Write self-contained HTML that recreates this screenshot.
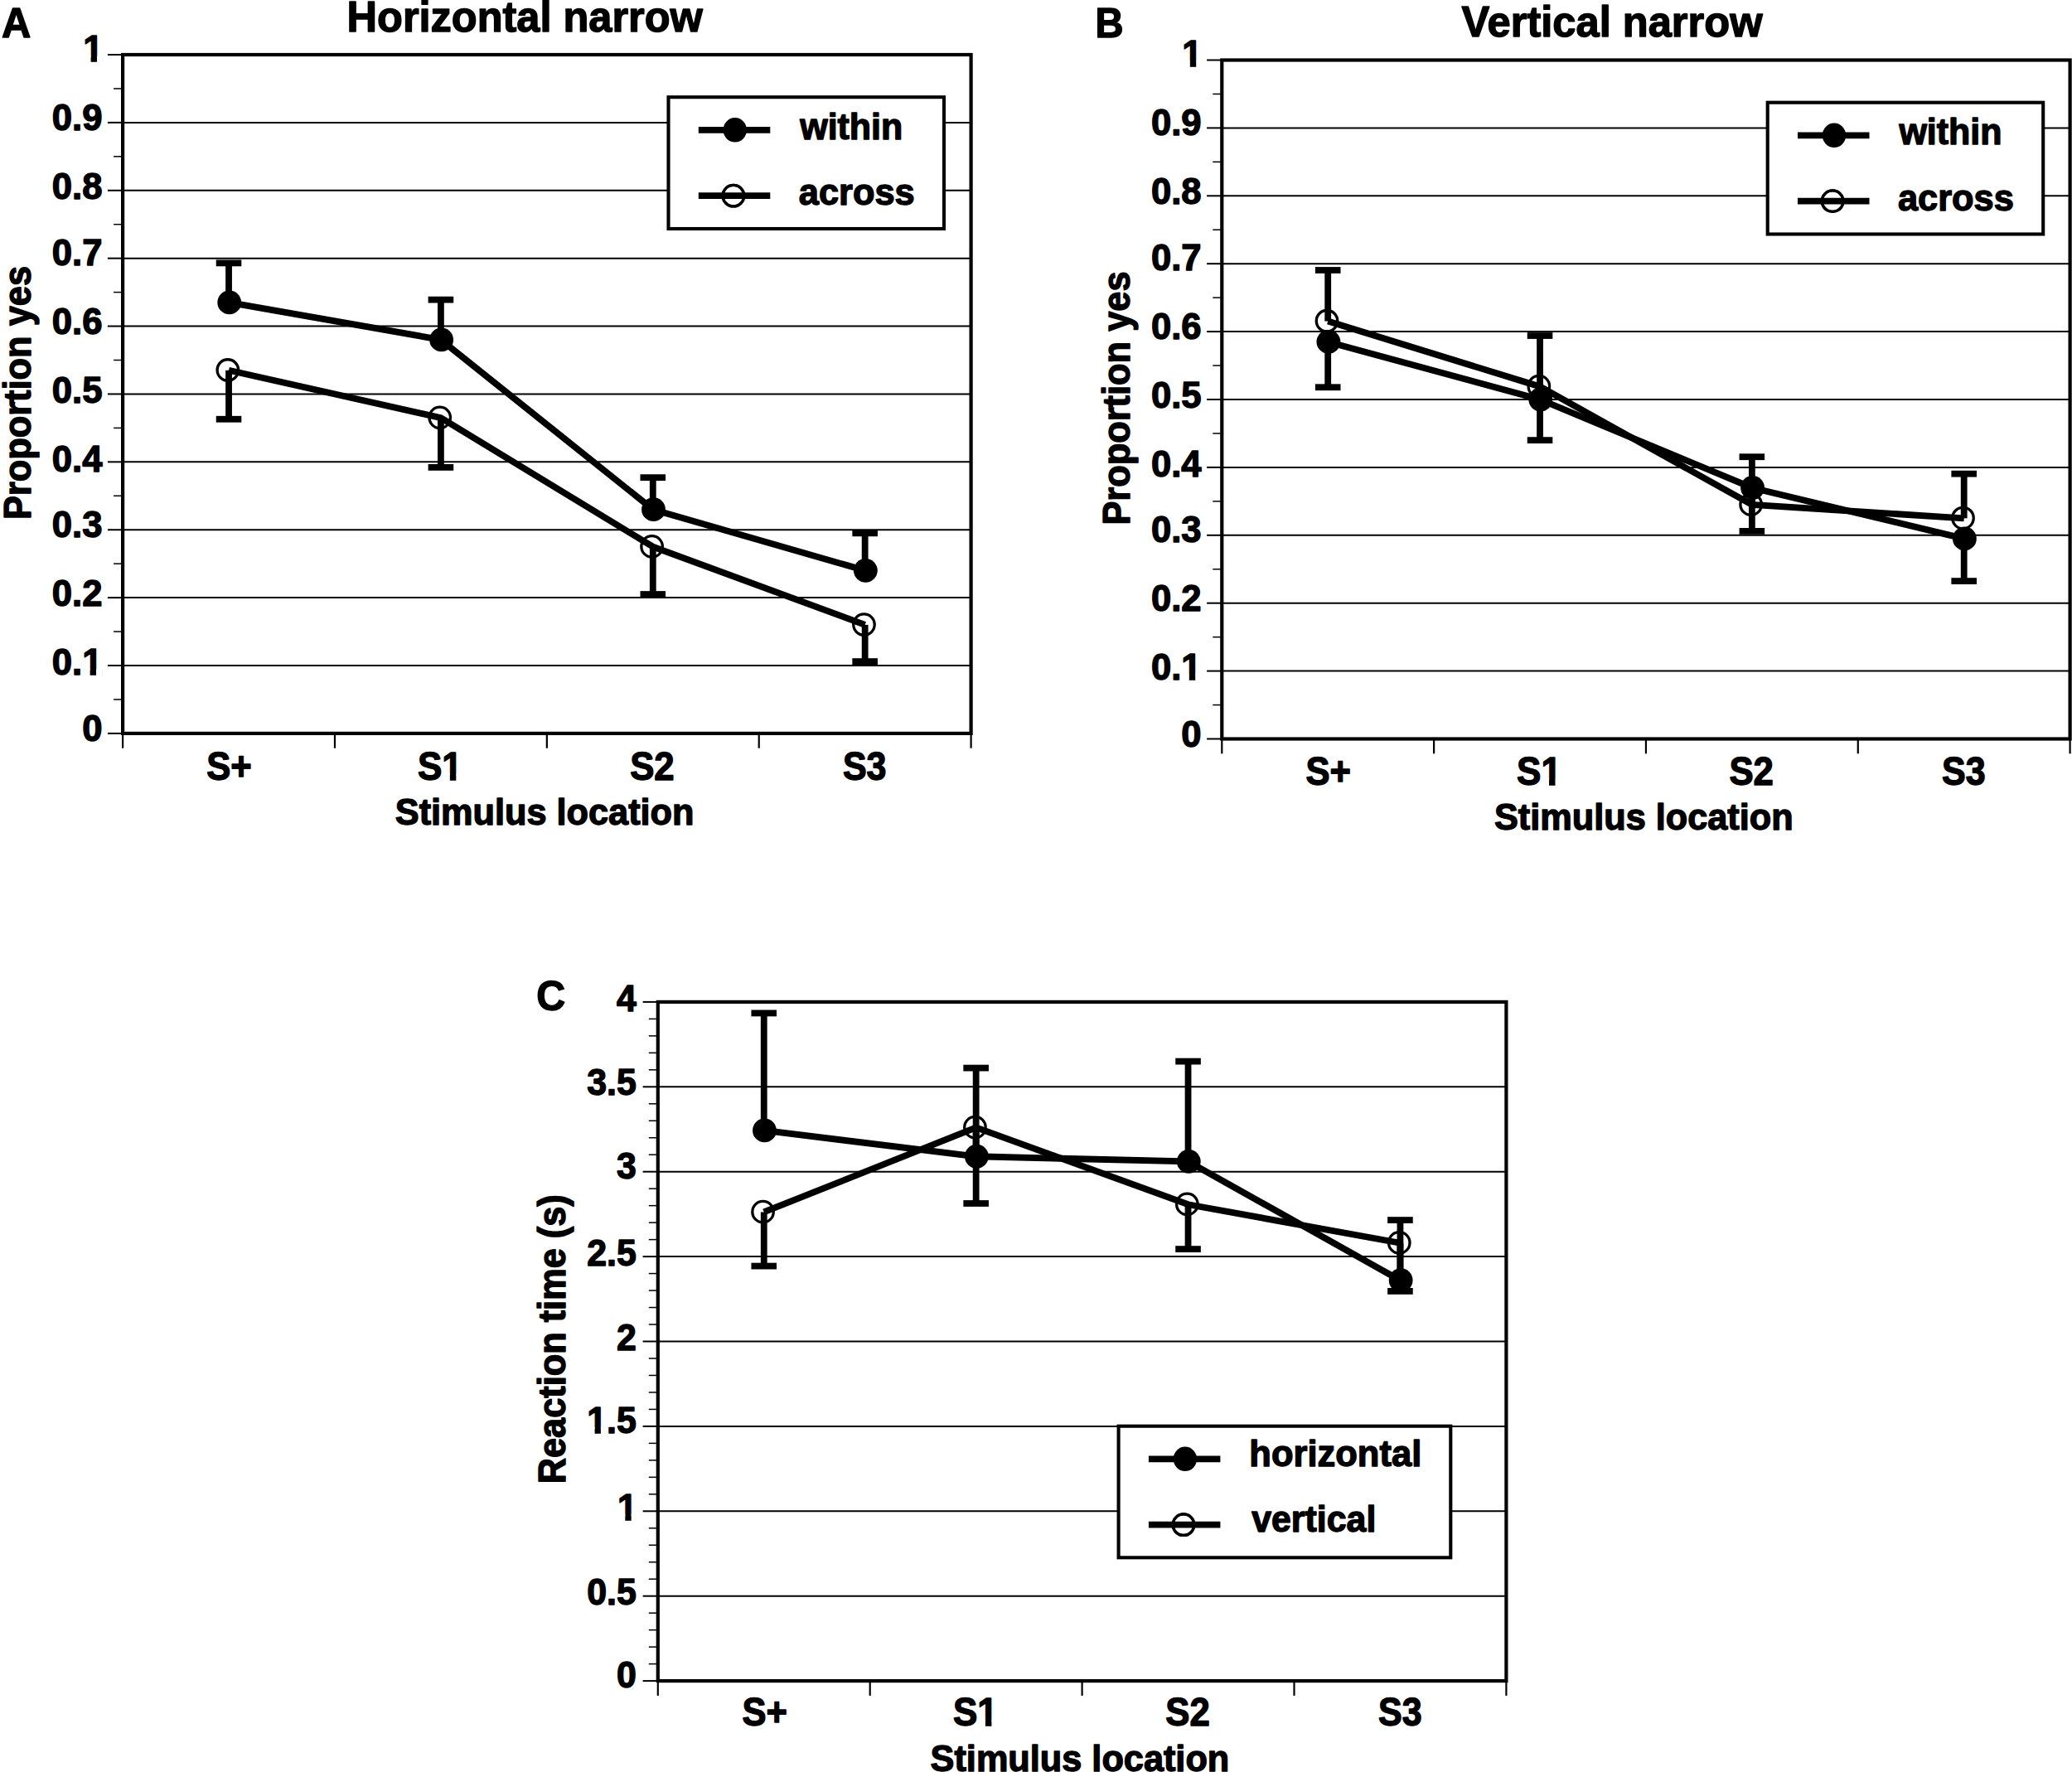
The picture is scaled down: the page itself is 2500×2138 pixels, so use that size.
<!DOCTYPE html>
<html lang="en">
<head>
<meta charset="utf-8">
<title>Figure: proportion yes and reaction time by stimulus location</title>
<style>
html, body { margin: 0; padding: 0; background: #fff; }
body { width: 2500px; height: 2138px; overflow: hidden; }
svg { display: block; }
svg text { font-family: "Liberation Sans", sans-serif; font-weight: 700; fill: #000; stroke: #000; stroke-width: 1.4; stroke-linejoin: round; }
.grid { stroke: #000; stroke-width: 2; }
.tick { stroke: #000; stroke-width: 2; }
.xtick { stroke: #000; stroke-width: 2.2; }
.mtick { stroke: #000; stroke-width: 1.5; }
.frame { fill: none; stroke: #000; stroke-width: 4.2; }
.legend { fill: #fff; stroke: #000; stroke-width: 4.1; }
.ser { fill: none; stroke: #000; stroke-width: 7.8; stroke-linejoin: miter; }
.err { stroke: #000; stroke-width: 7.8; }
.dotf { fill: #000; }
.doto { fill: #fff; stroke: #000; stroke-width: 3.3; }
.doto2 { fill: none; stroke: #000; stroke-width: 3.3; }
</style>
</head>
<body>
<svg width="2500" height="2138" viewBox="0 0 2500 2138">
<rect x="0" y="0" width="2500" height="2138" fill="#fff"/>
<g>
<line x1="129.9" y1="884.9" x2="148.1" y2="884.9" class="tick"/>
<line x1="137.1" y1="843.95" x2="148.1" y2="843.95" class="mtick"/>
<line x1="148.1" y1="803.01" x2="1171.6" y2="803.01" class="grid"/>
<line x1="129.9" y1="803.01" x2="148.1" y2="803.01" class="tick"/>
<line x1="137.1" y1="762.06" x2="148.1" y2="762.06" class="mtick"/>
<line x1="148.1" y1="721.12" x2="1171.6" y2="721.12" class="grid"/>
<line x1="129.9" y1="721.12" x2="148.1" y2="721.12" class="tick"/>
<line x1="137.1" y1="680.17" x2="148.1" y2="680.17" class="mtick"/>
<line x1="148.1" y1="639.23" x2="1171.6" y2="639.23" class="grid"/>
<line x1="129.9" y1="639.23" x2="148.1" y2="639.23" class="tick"/>
<line x1="137.1" y1="598.28" x2="148.1" y2="598.28" class="mtick"/>
<line x1="148.1" y1="557.34" x2="1171.6" y2="557.34" class="grid"/>
<line x1="129.9" y1="557.34" x2="148.1" y2="557.34" class="tick"/>
<line x1="137.1" y1="516.39" x2="148.1" y2="516.39" class="mtick"/>
<line x1="148.1" y1="475.45" x2="1171.6" y2="475.45" class="grid"/>
<line x1="129.9" y1="475.45" x2="148.1" y2="475.45" class="tick"/>
<line x1="137.1" y1="434.5" x2="148.1" y2="434.5" class="mtick"/>
<line x1="148.1" y1="393.56" x2="1171.6" y2="393.56" class="grid"/>
<line x1="129.9" y1="393.56" x2="148.1" y2="393.56" class="tick"/>
<line x1="137.1" y1="352.61" x2="148.1" y2="352.61" class="mtick"/>
<line x1="148.1" y1="311.67" x2="1171.6" y2="311.67" class="grid"/>
<line x1="129.9" y1="311.67" x2="148.1" y2="311.67" class="tick"/>
<line x1="137.1" y1="270.72" x2="148.1" y2="270.72" class="mtick"/>
<line x1="148.1" y1="229.78" x2="1171.6" y2="229.78" class="grid"/>
<line x1="129.9" y1="229.78" x2="148.1" y2="229.78" class="tick"/>
<line x1="137.1" y1="188.83" x2="148.1" y2="188.83" class="mtick"/>
<line x1="148.1" y1="147.89" x2="1171.6" y2="147.89" class="grid"/>
<line x1="129.9" y1="147.89" x2="148.1" y2="147.89" class="tick"/>
<line x1="137.1" y1="106.94" x2="148.1" y2="106.94" class="mtick"/>
<line x1="129.9" y1="66" x2="148.1" y2="66" class="tick"/>
<line x1="148.1" y1="884.9" x2="148.1" y2="902.7" class="xtick"/>
<line x1="403.98" y1="884.9" x2="403.98" y2="902.7" class="xtick"/>
<line x1="659.85" y1="884.9" x2="659.85" y2="902.7" class="xtick"/>
<line x1="915.73" y1="884.9" x2="915.73" y2="902.7" class="xtick"/>
<line x1="1171.6" y1="884.9" x2="1171.6" y2="902.7" class="xtick"/>
<rect x="148.1" y="66" width="1023.5" height="818.9" class="frame"/>
<text x="99.14" y="894.3" font-size="45" textLength="24.27" lengthAdjust="spacingAndGlyphs">0</text>
<text x="62.75" y="814" font-size="45" textLength="60.65" lengthAdjust="spacingAndGlyphs">0.1</text>
<rect x="100.39" y="807.32" width="8.22" height="9.38" fill="#fff"/>
<rect x="116.03" y="807.32" width="7.65" height="9.38" fill="#fff"/>
<text x="62.75" y="730.6" font-size="45" textLength="60.65" lengthAdjust="spacingAndGlyphs">0.2</text>
<text x="62.75" y="647.5" font-size="45" textLength="60.65" lengthAdjust="spacingAndGlyphs">0.3</text>
<text x="62.75" y="568.6" font-size="45" textLength="60.65" lengthAdjust="spacingAndGlyphs">0.4</text>
<text x="62.75" y="485.6" font-size="45" textLength="60.65" lengthAdjust="spacingAndGlyphs">0.5</text>
<text x="62.75" y="402.6" font-size="45" textLength="60.65" lengthAdjust="spacingAndGlyphs">0.6</text>
<text x="62.75" y="319.6" font-size="45" textLength="60.65" lengthAdjust="spacingAndGlyphs">0.7</text>
<text x="62.75" y="239.5" font-size="45" textLength="60.65" lengthAdjust="spacingAndGlyphs">0.8</text>
<text x="62.75" y="156.6" font-size="45" textLength="60.65" lengthAdjust="spacingAndGlyphs">0.9</text>
<text x="100.14" y="74" font-size="45" textLength="24.27" lengthAdjust="spacingAndGlyphs">1</text>
<rect x="101.39" y="67.32" width="8.22" height="9.38" fill="#fff"/>
<rect x="117.03" y="67.32" width="7.65" height="9.38" fill="#fff"/>
<text x="249.29" y="940.8" font-size="47.5" textLength="54.49" lengthAdjust="spacingAndGlyphs">S+</text>
<text x="503.88" y="940.8" font-size="47.5" textLength="53.88" lengthAdjust="spacingAndGlyphs">S1</text>
<rect x="534.53" y="933.86" width="8.29" height="9.64" fill="#fff"/>
<rect x="550.3" y="933.86" width="7.72" height="9.64" fill="#fff"/>
<text x="760.19" y="940.8" font-size="47.5" textLength="53.49" lengthAdjust="spacingAndGlyphs">S2</text>
<text x="1016.91" y="940.8" font-size="47.5" textLength="52.63" lengthAdjust="spacingAndGlyphs">S3</text>
<text x="476.8" y="994.8" font-size="45" textLength="360.67" lengthAdjust="spacingAndGlyphs">Stimulus location</text>
<text transform="translate(36.7 624.9) rotate(-90)" x="-2.23" y="0" font-size="46" textLength="306.14" lengthAdjust="spacingAndGlyphs">Proportion yes</text>
<rect x="806.5" y="117.2" width="332.5" height="158.8" class="legend"/>
<line x1="842.8" y1="156.8" x2="929.3" y2="156.8" class="ser"/>
<ellipse cx="886.8" cy="156.8" rx="14.2" ry="14.7" class="dotf"/>
<circle cx="884.9" cy="236.2" r="12.75" class="doto"/>
<line x1="842.8" y1="236.2" x2="929.3" y2="236.2" class="ser"/>
<circle cx="884.9" cy="236.2" r="12.75" class="doto2"/>
<text x="965.21" y="167.9" font-size="45" textLength="124.1" lengthAdjust="spacingAndGlyphs">within</text>
<text x="963.8" y="247.4" font-size="45" textLength="139.83" lengthAdjust="spacingAndGlyphs">across</text>
<circle cx="274.84" cy="446.49" r="12.75" class="doto"/>
<circle cx="530.71" cy="503.81" r="12.75" class="doto"/>
<circle cx="786.59" cy="659.4" r="12.75" class="doto"/>
<circle cx="1042.46" cy="753.58" r="12.75" class="doto"/>
<polyline points="276.04,446.79 531.91,504.11 787.79,659.7 1043.66,753.88" class="ser"/>
<line x1="276.04" y1="446.79" x2="276.04" y2="505.75" class="err"/>
<line x1="260.74" y1="505.75" x2="291.34" y2="505.75" class="err"/>
<line x1="531.91" y1="504.11" x2="531.91" y2="563.89" class="err"/>
<line x1="516.61" y1="563.89" x2="547.21" y2="563.89" class="err"/>
<line x1="787.79" y1="659.7" x2="787.79" y2="717.03" class="err"/>
<line x1="772.49" y1="717.03" x2="803.09" y2="717.03" class="err"/>
<line x1="1043.66" y1="753.88" x2="1043.66" y2="798.1" class="err"/>
<line x1="1028.36" y1="798.1" x2="1058.96" y2="798.1" class="err"/>
<polyline points="276.04,364.9 531.91,409.94 787.79,614.66 1043.66,688.36" class="ser"/>
<line x1="276.04" y1="364.9" x2="276.04" y2="317.4" class="err"/>
<line x1="260.74" y1="317.4" x2="291.34" y2="317.4" class="err"/>
<line x1="531.91" y1="409.94" x2="531.91" y2="361.62" class="err"/>
<line x1="516.61" y1="361.62" x2="547.21" y2="361.62" class="err"/>
<line x1="787.79" y1="614.66" x2="787.79" y2="576.17" class="err"/>
<line x1="772.49" y1="576.17" x2="803.09" y2="576.17" class="err"/>
<line x1="1043.66" y1="688.36" x2="1043.66" y2="643.32" class="err"/>
<line x1="1028.36" y1="643.32" x2="1058.96" y2="643.32" class="err"/>
<circle cx="276.74" cy="364.9" r="14.4" class="dotf"/>
<circle cx="532.61" cy="409.94" r="14.4" class="dotf"/>
<circle cx="788.49" cy="614.66" r="14.4" class="dotf"/>
<circle cx="1044.36" cy="688.36" r="14.4" class="dotf"/>
</g>
<text x="1.88" y="45.3" font-size="50" textLength="35.25" lengthAdjust="spacingAndGlyphs">A</text>
<text x="418.59" y="37.8" font-size="52" textLength="429.32" lengthAdjust="spacingAndGlyphs">Horizontal narrow</text>
<g>
<line x1="1456.1" y1="891.5" x2="1474.3" y2="891.5" class="tick"/>
<line x1="1463.3" y1="850.55" x2="1474.3" y2="850.55" class="mtick"/>
<line x1="1474.3" y1="809.6" x2="2497.6" y2="809.6" class="grid"/>
<line x1="1456.1" y1="809.6" x2="1474.3" y2="809.6" class="tick"/>
<line x1="1463.3" y1="768.65" x2="1474.3" y2="768.65" class="mtick"/>
<line x1="1474.3" y1="727.7" x2="2497.6" y2="727.7" class="grid"/>
<line x1="1456.1" y1="727.7" x2="1474.3" y2="727.7" class="tick"/>
<line x1="1463.3" y1="686.75" x2="1474.3" y2="686.75" class="mtick"/>
<line x1="1474.3" y1="645.8" x2="2497.6" y2="645.8" class="grid"/>
<line x1="1456.1" y1="645.8" x2="1474.3" y2="645.8" class="tick"/>
<line x1="1463.3" y1="604.85" x2="1474.3" y2="604.85" class="mtick"/>
<line x1="1474.3" y1="563.9" x2="2497.6" y2="563.9" class="grid"/>
<line x1="1456.1" y1="563.9" x2="1474.3" y2="563.9" class="tick"/>
<line x1="1463.3" y1="522.95" x2="1474.3" y2="522.95" class="mtick"/>
<line x1="1474.3" y1="482" x2="2497.6" y2="482" class="grid"/>
<line x1="1456.1" y1="482" x2="1474.3" y2="482" class="tick"/>
<line x1="1463.3" y1="441.05" x2="1474.3" y2="441.05" class="mtick"/>
<line x1="1474.3" y1="400.1" x2="2497.6" y2="400.1" class="grid"/>
<line x1="1456.1" y1="400.1" x2="1474.3" y2="400.1" class="tick"/>
<line x1="1463.3" y1="359.15" x2="1474.3" y2="359.15" class="mtick"/>
<line x1="1474.3" y1="318.2" x2="2497.6" y2="318.2" class="grid"/>
<line x1="1456.1" y1="318.2" x2="1474.3" y2="318.2" class="tick"/>
<line x1="1463.3" y1="277.25" x2="1474.3" y2="277.25" class="mtick"/>
<line x1="1474.3" y1="236.3" x2="2497.6" y2="236.3" class="grid"/>
<line x1="1456.1" y1="236.3" x2="1474.3" y2="236.3" class="tick"/>
<line x1="1463.3" y1="195.35" x2="1474.3" y2="195.35" class="mtick"/>
<line x1="1474.3" y1="154.4" x2="2497.6" y2="154.4" class="grid"/>
<line x1="1456.1" y1="154.4" x2="1474.3" y2="154.4" class="tick"/>
<line x1="1463.3" y1="113.45" x2="1474.3" y2="113.45" class="mtick"/>
<line x1="1456.1" y1="72.5" x2="1474.3" y2="72.5" class="tick"/>
<line x1="1474.3" y1="891.5" x2="1474.3" y2="909.3" class="xtick"/>
<line x1="1730.12" y1="891.5" x2="1730.12" y2="909.3" class="xtick"/>
<line x1="1985.95" y1="891.5" x2="1985.95" y2="909.3" class="xtick"/>
<line x1="2241.77" y1="891.5" x2="2241.77" y2="909.3" class="xtick"/>
<line x1="2497.6" y1="891.5" x2="2497.6" y2="909.3" class="xtick"/>
<rect x="1474.3" y="72.5" width="1023.3" height="819" class="frame"/>
<text x="1425.34" y="900.7" font-size="45" textLength="24.27" lengthAdjust="spacingAndGlyphs">0</text>
<text x="1388.95" y="820.4" font-size="45" textLength="60.65" lengthAdjust="spacingAndGlyphs">0.1</text>
<rect x="1426.59" y="813.72" width="8.22" height="9.38" fill="#fff"/>
<rect x="1442.23" y="813.72" width="7.65" height="9.38" fill="#fff"/>
<text x="1388.95" y="737" font-size="45" textLength="60.65" lengthAdjust="spacingAndGlyphs">0.2</text>
<text x="1388.95" y="653.9" font-size="45" textLength="60.65" lengthAdjust="spacingAndGlyphs">0.3</text>
<text x="1388.95" y="575" font-size="45" textLength="60.65" lengthAdjust="spacingAndGlyphs">0.4</text>
<text x="1388.95" y="492" font-size="45" textLength="60.65" lengthAdjust="spacingAndGlyphs">0.5</text>
<text x="1388.95" y="409" font-size="45" textLength="60.65" lengthAdjust="spacingAndGlyphs">0.6</text>
<text x="1388.95" y="326" font-size="45" textLength="60.65" lengthAdjust="spacingAndGlyphs">0.7</text>
<text x="1388.95" y="245.9" font-size="45" textLength="60.65" lengthAdjust="spacingAndGlyphs">0.8</text>
<text x="1388.95" y="163" font-size="45" textLength="60.65" lengthAdjust="spacingAndGlyphs">0.9</text>
<text x="1426.34" y="80.4" font-size="45" textLength="24.27" lengthAdjust="spacingAndGlyphs">1</text>
<rect x="1427.59" y="73.72" width="8.22" height="9.38" fill="#fff"/>
<rect x="1443.23" y="73.72" width="7.65" height="9.38" fill="#fff"/>
<text x="1575.49" y="947.3" font-size="47.5" textLength="54.49" lengthAdjust="spacingAndGlyphs">S+</text>
<text x="1830.08" y="947.3" font-size="47.5" textLength="53.88" lengthAdjust="spacingAndGlyphs">S1</text>
<rect x="1860.73" y="940.36" width="8.29" height="9.64" fill="#fff"/>
<rect x="1876.5" y="940.36" width="7.72" height="9.64" fill="#fff"/>
<text x="2086.39" y="947.3" font-size="47.5" textLength="53.49" lengthAdjust="spacingAndGlyphs">S2</text>
<text x="2343.11" y="947.3" font-size="47.5" textLength="52.63" lengthAdjust="spacingAndGlyphs">S3</text>
<text x="1803" y="1001.3" font-size="45" textLength="360.67" lengthAdjust="spacingAndGlyphs">Stimulus location</text>
<text transform="translate(1362.9 631.4) rotate(-90)" x="-2.23" y="0" font-size="46" textLength="306.14" lengthAdjust="spacingAndGlyphs">Proportion yes</text>
<rect x="2132.7" y="123.7" width="332.5" height="158.8" class="legend"/>
<line x1="2169" y1="163.3" x2="2255.5" y2="163.3" class="ser"/>
<ellipse cx="2213" cy="163.3" rx="14.2" ry="14.7" class="dotf"/>
<circle cx="2211.1" cy="242.7" r="12.75" class="doto"/>
<line x1="2169" y1="242.7" x2="2255.5" y2="242.7" class="ser"/>
<circle cx="2211.1" cy="242.7" r="12.75" class="doto2"/>
<text x="2291.41" y="174.4" font-size="45" textLength="124.1" lengthAdjust="spacingAndGlyphs">within</text>
<text x="2290" y="253.9" font-size="45" textLength="139.83" lengthAdjust="spacingAndGlyphs">across</text>
<circle cx="1601.01" cy="387.27" r="12.75" class="doto"/>
<circle cx="1856.84" cy="466.14" r="12.75" class="doto"/>
<circle cx="2112.66" cy="608.65" r="12.75" class="doto"/>
<circle cx="2368.49" cy="625.03" r="12.75" class="doto"/>
<polyline points="1602.21,387.57 1858.04,466.44 2113.86,608.95 2369.69,625.33" class="ser"/>
<line x1="1602.21" y1="387.57" x2="1602.21" y2="325.98" class="err"/>
<line x1="1586.91" y1="325.98" x2="1617.51" y2="325.98" class="err"/>
<line x1="1858.04" y1="466.44" x2="1858.04" y2="405.01" class="err"/>
<line x1="1842.74" y1="405.01" x2="1873.34" y2="405.01" class="err"/>
<line x1="2113.86" y1="608.95" x2="2113.86" y2="551.21" class="err"/>
<line x1="2098.56" y1="551.21" x2="2129.16" y2="551.21" class="err"/>
<line x1="2369.69" y1="625.33" x2="2369.69" y2="571.68" class="err"/>
<line x1="2354.39" y1="571.68" x2="2384.99" y2="571.68" class="err"/>
<polyline points="1602.21,412.39 1858.04,482 2113.86,588.47 2369.69,649.89" class="ser"/>
<line x1="1602.21" y1="412.39" x2="1602.21" y2="467.26" class="err"/>
<line x1="1586.91" y1="467.26" x2="1617.51" y2="467.26" class="err"/>
<line x1="1858.04" y1="482" x2="1858.04" y2="531.14" class="err"/>
<line x1="1842.74" y1="531.14" x2="1873.34" y2="531.14" class="err"/>
<line x1="2113.86" y1="588.47" x2="2113.86" y2="640.89" class="err"/>
<line x1="2098.56" y1="640.89" x2="2129.16" y2="640.89" class="err"/>
<line x1="2369.69" y1="649.89" x2="2369.69" y2="701.08" class="err"/>
<line x1="2354.39" y1="701.08" x2="2384.99" y2="701.08" class="err"/>
<circle cx="1602.91" cy="412.39" r="14.4" class="dotf"/>
<circle cx="1858.74" cy="482" r="14.4" class="dotf"/>
<circle cx="2114.56" cy="588.47" r="14.4" class="dotf"/>
<circle cx="2370.39" cy="649.89" r="14.4" class="dotf"/>
</g>
<text x="1321.51" y="45.3" font-size="50" textLength="34.1" lengthAdjust="spacingAndGlyphs">B</text>
<text x="1763.62" y="43.9" font-size="52" textLength="362.96" lengthAdjust="spacingAndGlyphs">Vertical narrow</text>
<g>
<line x1="775.6" y1="2028.1" x2="793.8" y2="2028.1" class="tick"/>
<line x1="782.8" y1="2007.62" x2="793.8" y2="2007.62" class="mtick"/>
<line x1="782.8" y1="1987.14" x2="793.8" y2="1987.14" class="mtick"/>
<line x1="782.8" y1="1966.66" x2="793.8" y2="1966.66" class="mtick"/>
<line x1="782.8" y1="1946.18" x2="793.8" y2="1946.18" class="mtick"/>
<line x1="793.8" y1="1925.7" x2="1817.4" y2="1925.7" class="grid"/>
<line x1="775.6" y1="1925.7" x2="793.8" y2="1925.7" class="tick"/>
<line x1="782.8" y1="1905.22" x2="793.8" y2="1905.22" class="mtick"/>
<line x1="782.8" y1="1884.74" x2="793.8" y2="1884.74" class="mtick"/>
<line x1="782.8" y1="1864.26" x2="793.8" y2="1864.26" class="mtick"/>
<line x1="782.8" y1="1843.78" x2="793.8" y2="1843.78" class="mtick"/>
<line x1="793.8" y1="1823.3" x2="1817.4" y2="1823.3" class="grid"/>
<line x1="775.6" y1="1823.3" x2="793.8" y2="1823.3" class="tick"/>
<line x1="782.8" y1="1802.82" x2="793.8" y2="1802.82" class="mtick"/>
<line x1="782.8" y1="1782.34" x2="793.8" y2="1782.34" class="mtick"/>
<line x1="782.8" y1="1761.86" x2="793.8" y2="1761.86" class="mtick"/>
<line x1="782.8" y1="1741.38" x2="793.8" y2="1741.38" class="mtick"/>
<line x1="793.8" y1="1720.9" x2="1817.4" y2="1720.9" class="grid"/>
<line x1="775.6" y1="1720.9" x2="793.8" y2="1720.9" class="tick"/>
<line x1="782.8" y1="1700.42" x2="793.8" y2="1700.42" class="mtick"/>
<line x1="782.8" y1="1679.94" x2="793.8" y2="1679.94" class="mtick"/>
<line x1="782.8" y1="1659.46" x2="793.8" y2="1659.46" class="mtick"/>
<line x1="782.8" y1="1638.98" x2="793.8" y2="1638.98" class="mtick"/>
<line x1="793.8" y1="1618.5" x2="1817.4" y2="1618.5" class="grid"/>
<line x1="775.6" y1="1618.5" x2="793.8" y2="1618.5" class="tick"/>
<line x1="782.8" y1="1598.02" x2="793.8" y2="1598.02" class="mtick"/>
<line x1="782.8" y1="1577.54" x2="793.8" y2="1577.54" class="mtick"/>
<line x1="782.8" y1="1557.06" x2="793.8" y2="1557.06" class="mtick"/>
<line x1="782.8" y1="1536.58" x2="793.8" y2="1536.58" class="mtick"/>
<line x1="793.8" y1="1516.1" x2="1817.4" y2="1516.1" class="grid"/>
<line x1="775.6" y1="1516.1" x2="793.8" y2="1516.1" class="tick"/>
<line x1="782.8" y1="1495.62" x2="793.8" y2="1495.62" class="mtick"/>
<line x1="782.8" y1="1475.14" x2="793.8" y2="1475.14" class="mtick"/>
<line x1="782.8" y1="1454.66" x2="793.8" y2="1454.66" class="mtick"/>
<line x1="782.8" y1="1434.18" x2="793.8" y2="1434.18" class="mtick"/>
<line x1="793.8" y1="1413.7" x2="1817.4" y2="1413.7" class="grid"/>
<line x1="775.6" y1="1413.7" x2="793.8" y2="1413.7" class="tick"/>
<line x1="782.8" y1="1393.22" x2="793.8" y2="1393.22" class="mtick"/>
<line x1="782.8" y1="1372.74" x2="793.8" y2="1372.74" class="mtick"/>
<line x1="782.8" y1="1352.26" x2="793.8" y2="1352.26" class="mtick"/>
<line x1="782.8" y1="1331.78" x2="793.8" y2="1331.78" class="mtick"/>
<line x1="793.8" y1="1311.3" x2="1817.4" y2="1311.3" class="grid"/>
<line x1="775.6" y1="1311.3" x2="793.8" y2="1311.3" class="tick"/>
<line x1="782.8" y1="1290.82" x2="793.8" y2="1290.82" class="mtick"/>
<line x1="782.8" y1="1270.34" x2="793.8" y2="1270.34" class="mtick"/>
<line x1="782.8" y1="1249.86" x2="793.8" y2="1249.86" class="mtick"/>
<line x1="782.8" y1="1229.38" x2="793.8" y2="1229.38" class="mtick"/>
<line x1="775.6" y1="1208.9" x2="793.8" y2="1208.9" class="tick"/>
<line x1="793.8" y1="2028.1" x2="793.8" y2="2045.9" class="xtick"/>
<line x1="1049.7" y1="2028.1" x2="1049.7" y2="2045.9" class="xtick"/>
<line x1="1305.6" y1="2028.1" x2="1305.6" y2="2045.9" class="xtick"/>
<line x1="1561.5" y1="2028.1" x2="1561.5" y2="2045.9" class="xtick"/>
<line x1="1817.4" y1="2028.1" x2="1817.4" y2="2045.9" class="xtick"/>
<rect x="793.8" y="1208.9" width="1023.6" height="819.2" class="frame"/>
<text x="744.04" y="2036.3" font-size="45" textLength="23.84" lengthAdjust="spacingAndGlyphs">0</text>
<text x="708.29" y="1935.5" font-size="45" textLength="59.6" lengthAdjust="spacingAndGlyphs">0.5</text>
<text x="745.04" y="1833.8" font-size="45" textLength="23.84" lengthAdjust="spacingAndGlyphs">1</text>
<rect x="746.24" y="1827.12" width="8.09" height="9.38" fill="#fff"/>
<rect x="761.65" y="1827.12" width="7.53" height="9.38" fill="#fff"/>
<text x="708.29" y="1728.7" font-size="45" textLength="59.6" lengthAdjust="spacingAndGlyphs">1.5</text>
<rect x="709.49" y="1722.02" width="8.09" height="9.38" fill="#fff"/>
<rect x="724.89" y="1722.02" width="7.53" height="9.38" fill="#fff"/>
<text x="744.04" y="1628.5" font-size="45" textLength="23.84" lengthAdjust="spacingAndGlyphs">2</text>
<text x="708.29" y="1526.9" font-size="45" textLength="59.6" lengthAdjust="spacingAndGlyphs">2.5</text>
<text x="744.04" y="1421.8" font-size="45" textLength="23.84" lengthAdjust="spacingAndGlyphs">3</text>
<text x="708.29" y="1320.9" font-size="45" textLength="59.6" lengthAdjust="spacingAndGlyphs">3.5</text>
<text x="744.04" y="1220" font-size="45" textLength="23.84" lengthAdjust="spacingAndGlyphs">4</text>
<text x="895.39" y="2082" font-size="47.5" textLength="54.49" lengthAdjust="spacingAndGlyphs">S+</text>
<text x="1149.98" y="2082" font-size="47.5" textLength="53.88" lengthAdjust="spacingAndGlyphs">S1</text>
<rect x="1180.63" y="2075.06" width="8.29" height="9.64" fill="#fff"/>
<rect x="1196.4" y="2075.06" width="7.72" height="9.64" fill="#fff"/>
<text x="1406.29" y="2082" font-size="47.5" textLength="53.49" lengthAdjust="spacingAndGlyphs">S2</text>
<text x="1663.01" y="2082" font-size="47.5" textLength="52.63" lengthAdjust="spacingAndGlyphs">S3</text>
<text x="1122.6" y="2136.5" font-size="45" textLength="360.67" lengthAdjust="spacingAndGlyphs">Stimulus location</text>
<text transform="translate(681.9 1788.1) rotate(-90)" x="-2.22" y="0" font-size="46" textLength="349.09" lengthAdjust="spacingAndGlyphs">Reaction time (s)</text>
<rect x="1349.6" y="1720.7" width="400.7" height="158.6" class="legend"/>
<line x1="1385.9" y1="1760.3" x2="1472.4" y2="1760.3" class="ser"/>
<ellipse cx="1429.9" cy="1760.3" rx="14.2" ry="14.7" class="dotf"/>
<circle cx="1428" cy="1839.7" r="12.75" class="doto"/>
<line x1="1385.9" y1="1839.7" x2="1472.4" y2="1839.7" class="ser"/>
<circle cx="1428" cy="1839.7" r="12.75" class="doto2"/>
<text x="1507.35" y="1768.5" font-size="45" textLength="207.89" lengthAdjust="spacingAndGlyphs">horizontal</text>
<text x="1510.19" y="1848.2" font-size="45" textLength="150.12" lengthAdjust="spacingAndGlyphs">vertical</text>
<circle cx="920.55" cy="1462.14" r="12.75" class="doto"/>
<circle cx="1176.45" cy="1360.15" r="12.75" class="doto"/>
<circle cx="1432.35" cy="1452.93" r="12.75" class="doto"/>
<circle cx="1688.25" cy="1499.42" r="12.75" class="doto"/>
<polyline points="921.75,1462.44 1177.65,1360.45 1433.55,1453.23 1689.45,1499.72" class="ser"/>
<line x1="921.75" y1="1462.44" x2="921.75" y2="1527.57" class="err"/>
<line x1="906.45" y1="1527.57" x2="937.05" y2="1527.57" class="err"/>
<line x1="1177.65" y1="1360.45" x2="1177.65" y2="1452" class="err"/>
<line x1="1162.35" y1="1452" x2="1192.95" y2="1452" class="err"/>
<line x1="1433.55" y1="1453.23" x2="1433.55" y2="1507.09" class="err"/>
<line x1="1418.25" y1="1507.09" x2="1448.85" y2="1507.09" class="err"/>
<line x1="1689.45" y1="1499.72" x2="1689.45" y2="1557.88" class="err"/>
<line x1="1674.15" y1="1557.88" x2="1704.75" y2="1557.88" class="err"/>
<polyline points="921.75,1363.93 1177.65,1395.27 1433.55,1401.41 1689.45,1544.77" class="ser"/>
<line x1="921.75" y1="1363.93" x2="921.75" y2="1222.42" class="err"/>
<line x1="906.45" y1="1222.42" x2="937.05" y2="1222.42" class="err"/>
<line x1="1177.65" y1="1395.27" x2="1177.65" y2="1288.57" class="err"/>
<line x1="1162.35" y1="1288.57" x2="1192.95" y2="1288.57" class="err"/>
<line x1="1433.55" y1="1401.41" x2="1433.55" y2="1280.58" class="err"/>
<line x1="1418.25" y1="1280.58" x2="1448.85" y2="1280.58" class="err"/>
<line x1="1689.45" y1="1544.77" x2="1689.45" y2="1472.07" class="err"/>
<line x1="1674.15" y1="1472.07" x2="1704.75" y2="1472.07" class="err"/>
<circle cx="922.45" cy="1363.93" r="14.4" class="dotf"/>
<circle cx="1178.35" cy="1395.27" r="14.4" class="dotf"/>
<circle cx="1434.25" cy="1401.41" r="14.4" class="dotf"/>
<circle cx="1690.15" cy="1544.77" r="14.4" class="dotf"/>
</g>
<text x="647.16" y="1219" font-size="50" textLength="34.95" lengthAdjust="spacingAndGlyphs">C</text>
</svg>
</body>
</html>
